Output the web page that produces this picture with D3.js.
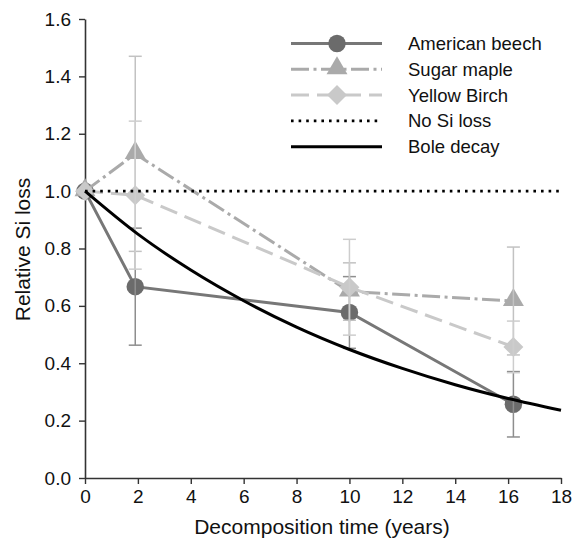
<!DOCTYPE html>
<html>
<head>
<meta charset="utf-8">
<script src="https://cdn.jsdelivr.net/npm/d3@7"></script>
<style>
  body { margin: 0; background: #fff; }
  text { font-family: "Liberation Sans", Arial, sans-serif; fill: #111; }
</style>
</head>
<body>
<div id="canvas"></div>
<script>
// values
const years = [0, 1.9, 10, 16.2];
const beech = [1.0, 0.667, 0.577, 0.257];
const beechErr = [0, 0.204, 0.125, 0.114];
const maple = [1.0, 1.13, 0.65, 0.617];
const mapleErr = [0, 0.34, 0.1, 0.188];
const birch = [1.0, 0.986, 0.665, 0.457];
const birchErr = [0, 0.258, 0.167, 0.09];
const decayYears = [0, 2, 4, 6, 8, 10, 12, 14, 16, 18];
const decayValues = [1.0, 0.85, 0.725, 0.618, 0.526, 0.448, 0.382, 0.325, 0.277, 0.236];
const noLossYears = [0, 18];
const noLossValues = [1.0, 1.0];
const xTicks = [0, 2, 4, 6, 8, 10, 12, 14, 16, 18];
const yTicks = [0, 0.2, 0.4, 0.6, 0.8, 1.0, 1.2, 1.4, 1.6];

const width = 578;
const height = 540;
const margin = { top: 19, left: 85, bottom: 62, right: 17 };
const iwidth = width - margin.left - margin.right;
const iheight = height - margin.top - margin.bottom;

const svg = d3.select("#canvas").append("svg")
  .attr("width", width)
  .attr("height", height);

const g = svg.append("g")
  .attr("transform", `translate(${margin.left},${margin.top})`);

const x = d3.scaleLinear().domain([0, 18]).range([0, iwidth]);
const y = d3.scaleLinear().domain([0, 1.6]).range([iheight, 0]);

// axes
const xAxis = g.append("g")
  .attr("transform", `translate(0,${iheight})`)
  .call(d3.axisBottom(x).tickValues(xTicks).tickSize(6).tickPadding(6).tickSizeOuter(0));
const yAxis = g.append("g")
  .call(d3.axisLeft(y).tickValues(yTicks).tickFormat(d3.format(".1f")).tickSize(6).tickPadding(8).tickSizeOuter(0));

[xAxis, yAxis].forEach((a) => {
  a.select(".domain").attr("stroke", "#333").attr("stroke-width", 1.6);
  a.selectAll(".tick line").attr("stroke", "#333").attr("stroke-width", 1.4);
  a.selectAll(".tick text")
    .style("font-family", '"Liberation Sans", Arial, sans-serif')
    .style("font-size", "19px")
    .attr("fill", "#111");
});

svg.append("text")
  .attr("x", margin.left + iwidth / 2 - 1)
  .attr("y", 534)
  .attr("text-anchor", "middle")
  .style("font-size", "21px")
  .text("Decomposition time (years)");

svg.append("text")
  .attr("transform", "translate(30,249.5) rotate(-90)")
  .attr("text-anchor", "middle")
  .style("font-size", "21px")
  .text("Relative Si loss");

const symbols = {
  circle: d3.symbol().type(d3.symbolCircle).size(240),
  triangle: d3.symbol().type(d3.symbolTriangle).size(190),
  diamond: d3.symbol().type(d3.symbolSquare).size(200)
};

const series = [
  { name: "American beech", values: beech, err: beechErr, color: "#777", fill: "#6b6b6b", errColor: "#8e8e8e", dash: null, symbol: "circle" },
  { name: "Sugar maple", values: maple, err: mapleErr, color: "#aaa", fill: "#aaa", errColor: "#c2c2c2", dash: "18,4.5,3,4.5", symbol: "triangle" },
  { name: "Yellow Birch", values: birch, err: birchErr, color: "#c9c9c9", fill: "#c9c9c9", errColor: "#cdcdcd", dash: "18,8", symbol: "diamond" }
];

const line = d3.line().x((d) => x(d[0])).y((d) => y(d[1]));

function markerTransform(s, px, py) {
  if (s.symbol === "diamond") return `translate(${px},${py}) rotate(45)`;
  if (s.symbol === "triangle") return `translate(${px},${py - 1})`;
  return `translate(${px},${py})`;
}

series.forEach((s) => {
  const pts = years.map((t, i) => [t, s.values[i], s.err[i]]);
  g.append("path")
    .datum(pts)
    .attr("d", line)
    .attr("fill", "none")
    .attr("stroke", s.color)
    .attr("stroke-width", 3)
    .attr("stroke-dasharray", s.dash);

  g.selectAll(null)
    .data(pts)
    .enter()
    .append("path")
    .attr("d", symbols[s.symbol])
    .attr("transform", (d) => markerTransform(s, x(d[0]), y(d[1])))
    .attr("fill", s.fill);

  const bars = g.selectAll(null)
    .data(pts.filter((d) => d[2] > 0))
    .enter()
    .append("g")
    .attr("stroke", s.errColor)
    .attr("stroke-width", 1.5);
  bars.append("line")
    .attr("x1", (d) => x(d[0])).attr("x2", (d) => x(d[0]))
    .attr("y1", (d) => y(d[1] + d[2])).attr("y2", (d) => y(d[1] - d[2]));
  bars.append("line")
    .attr("x1", (d) => x(d[0]) - 6.5).attr("x2", (d) => x(d[0]) + 6.5)
    .attr("y1", (d) => y(d[1] + d[2])).attr("y2", (d) => y(d[1] + d[2]));
  bars.append("line")
    .attr("x1", (d) => x(d[0]) - 6.5).attr("x2", (d) => x(d[0]) + 6.5)
    .attr("y1", (d) => y(d[1] - d[2])).attr("y2", (d) => y(d[1] - d[2]));
});

// reference lines
g.append("path")
  .datum(noLossYears.map((t, i) => [t, noLossValues[i]]))
  .attr("d", line)
  .attr("fill", "none")
  .attr("stroke", "#000")
  .attr("stroke-width", 2.6)
  .attr("stroke-dasharray", "2.6,5");

g.append("path")
  .datum(decayYears.map((t, i) => [t, decayValues[i]]))
  .attr("d", line.curve(d3.curveMonotoneX))
  .attr("fill", "none")
  .attr("stroke", "#000")
  .attr("stroke-width", 3);
line.curve(d3.curveLinear);

// legend
const legendItems = [
  ...series,
  { name: "No Si loss", color: "#000", dash: "2.6,5", width: 2.6 },
  { name: "Bole decay", color: "#000", dash: null, width: 3 }
];

const legend = svg.append("g");
legendItems.forEach((s, i) => {
  const ly = 43.5 + i * 25.8;
  legend.append("line")
    .attr("x1", 291).attr("x2", 382)
    .attr("y1", ly).attr("y2", ly)
    .attr("stroke", s.color)
    .attr("stroke-width", s.width || 3)
    .attr("stroke-dasharray", s.dash);
  if (s.symbol) {
    legend.append("path")
      .attr("d", symbols[s.symbol])
      .attr("transform", markerTransform(s, 337, ly))
      .attr("fill", s.fill);
  }
  legend.append("text")
    .attr("x", 408)
    .attr("y", ly)
    .attr("dy", "0.35em")
    .style("font-size", "18.5px")
    .text(s.name);
});
</script>
</body>
</html>
